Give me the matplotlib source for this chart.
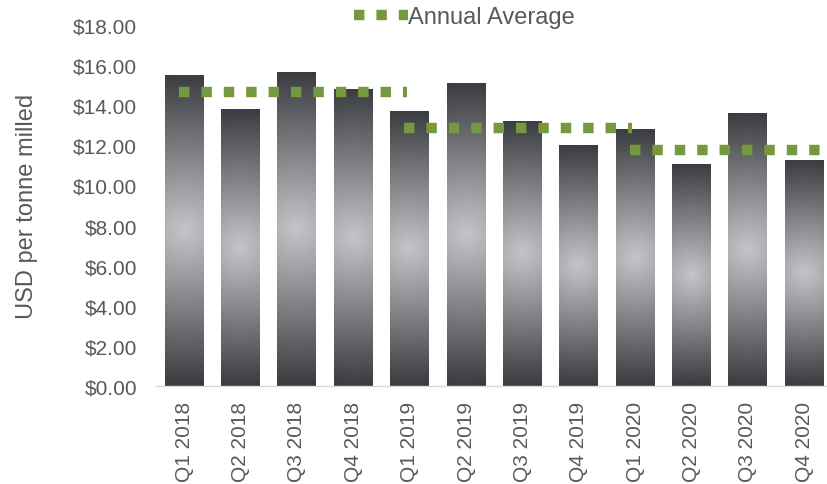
import matplotlib
matplotlib.use("Agg")
import matplotlib.pyplot as plt
import numpy as np
from matplotlib.colors import to_rgb

plt.rcParams['font.family'] = ['Liberation Sans', 'DejaVu Sans']

# Coste por tonelada molida, trimestral.
trimestres = ['Q1 2018', 'Q2 2018', 'Q3 2018', 'Q4 2018',
              'Q1 2019', 'Q2 2019', 'Q3 2019', 'Q4 2019',
              'Q1 2020', 'Q2 2020', 'Q3 2020', 'Q4 2020']
costo = [15.51, 13.82, 15.66, 14.81,
         13.72, 15.11, 13.22, 12.02,
         12.82, 11.07, 13.62, 11.27]

# Promedio anual.
anios = [2018, 2019, 2020]
promedio = [14.66, 12.85, 11.79]

gris = '#595959'
verde = '#76983f'
claro = np.array(to_rgb('#c4c5c9'))
oscuro = np.array(to_rgb('#3b3c3f'))

fig = plt.figure(figsize=(8.28, 4.85), dpi=100)
ax = fig.add_axes([0.1884, 0.2021, 0.8116, 0.7443])

x = np.arange(len(costo))
ancho = 0.69
ax.set_xlim(-0.5, 11.42)
ax.set_ylim(0, 18)

barras = ax.bar(x, costo, width=ancho, color='none', edgecolor='none', zorder=2)

# Degradado radial dentro de cada barra.
fig.canvas.draw()
for b in barras:
    x0, y0 = b.get_x(), b.get_y()
    w, h = b.get_width(), b.get_height()
    p0 = ax.transData.transform((x0, y0))
    p1 = ax.transData.transform((x0 + w, y0 + h))
    wp, hp = abs(p1[0] - p0[0]), abs(p1[1] - p0[1])
    u = np.linspace(-1, 1, 60)
    v = np.linspace(-1, 1, 300)
    U, V = np.meshgrid(u, v)
    t = np.sqrt((U * wp / hp) ** 2 + V ** 2)
    t = np.clip(t, 0, 1)[..., None]
    img = claro * (1 - t) + oscuro * t
    im = ax.imshow(img, extent=(x0, x0 + w, y0, y0 + h), aspect='auto',
                   interpolation='bilinear', zorder=2, origin='lower')
    im.set_clip_path(b)

ax.set_xlim(-0.5, 11.42)
ax.set_ylim(0, 18)

# Lineas punteadas del promedio anual.
for k, (anio, prom) in enumerate(zip(anios, promedio)):
    i0 = k * 4
    etiqueta = 'Annual Average' if k == 0 else None
    ax.plot([i0 - 0.1, i0 + 3.95], [prom, prom], color=verde, linewidth=7.5,
            linestyle=(0, (1, 1.15)), dash_capstyle='butt', zorder=3, label=etiqueta)

ax.set_yticks(np.arange(0, 18.01, 2))
ax.set_yticklabels(['${:.2f}'.format(v) for v in np.arange(0, 18.01, 2)])
ax.set_xticks(x)
ax.set_xticklabels(trimestres, rotation=90)
ax.tick_params(axis='y', length=0, pad=13.5, labelsize=15, labelcolor=gris)
ax.tick_params(axis='x', length=0, pad=11, labelsize=15, labelcolor=gris)

for lado in ['top', 'right', 'left']:
    ax.spines[lado].set_visible(False)
ax.spines['bottom'].set_color('#d9d9d9')
ax.spines['bottom'].set_linewidth(1)

ax.set_ylabel('USD per tonne milled', fontsize=17, color=gris)
ax.yaxis.set_label_coords(-0.175, 0.5)

fig.legend(loc='center left', bbox_to_anchor=(0.428, 0.962), frameon=False,
           fontsize=17, labelcolor=gris, handlelength=2.25, handletextpad=0.0,
           borderpad=0, borderaxespad=0)

fig.savefig('out.png', dpi=100)
